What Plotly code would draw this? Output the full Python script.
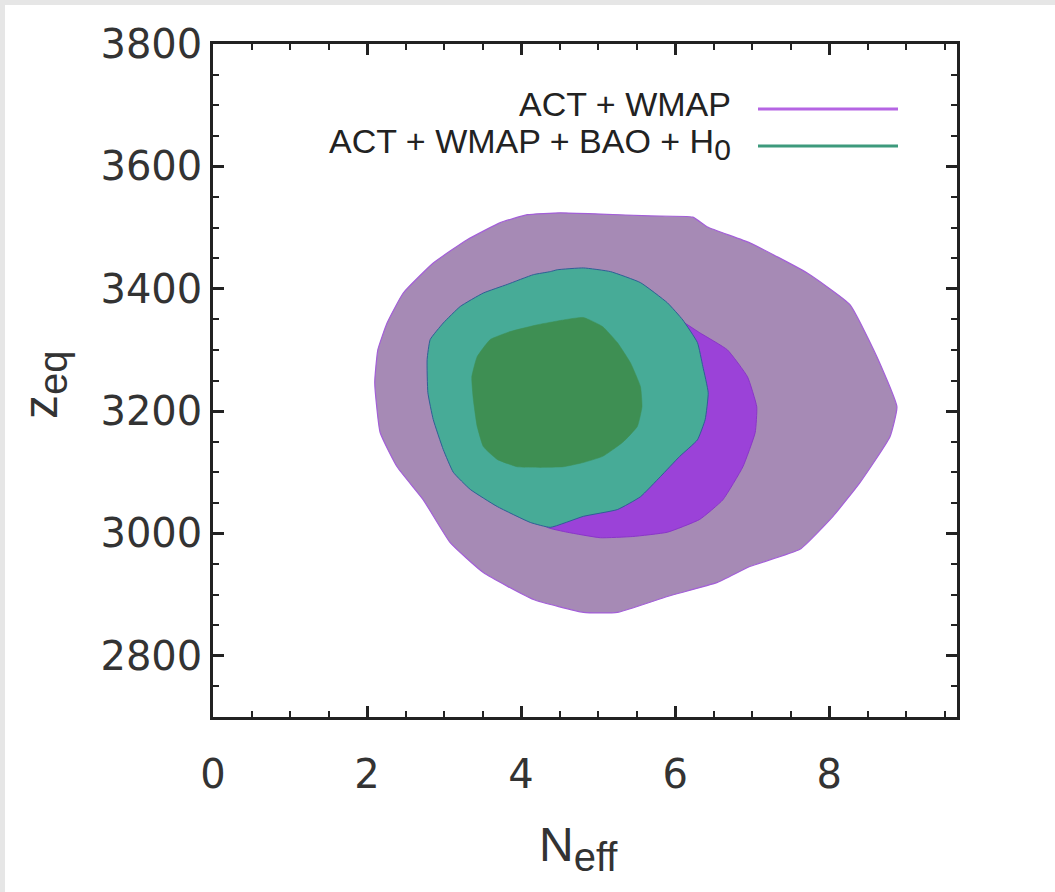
import plotly.graph_objects as go

# ---- contour outlines (N_eff, z_eq) ----
# ACT+WMAP, 95% region
act_wmap_95_neff = [4.08, 4.51, 5.03, 5.68, 6.23, 6.42, 6.97, 7.71, 8.27, 8.62, 8.88, 8.79, 8.40,
                    8.05, 7.62, 6.97, 6.55, 5.90, 5.25, 4.81, 4.16, 3.51, 3.08, 2.73, 2.39, 2.17,
                    2.10, 2.14, 2.26, 2.47, 2.86, 3.30, 3.73]
act_wmap_95_zeq = [3521, 3524, 3522, 3519, 3517, 3501, 3475, 3426, 3374, 3289, 3207, 3158, 3083,
                   3028, 2974, 2946, 2920, 2897, 2871, 2871, 2892, 2936, 2985, 3055, 3109, 3165,
                   3246, 3300, 3344, 3393, 3442, 3480, 3508]

# ACT+WMAP, 68% region
act_wmap_68_neff = [6.06, 6.32, 6.68, 6.94, 7.06, 7.04, 6.88, 6.62, 6.32, 5.90, 5.45, 5.03, 4.60,
                    4.34, 4.05, 3.66, 3.34, 3.31, 3.53, 3.99, 4.77, 5.55]
act_wmap_68_zeq = [3349, 3328, 3300, 3256, 3207, 3165, 3109, 3055, 3023, 3002, 2995, 2993, 3002,
                   3010, 3044, 3080, 3170, 3251, 3309, 3358, 3382, 3374]

# ACT+WMAP+BAO+H0, 95% region
act_bao_95_neff = [4.47, 4.81, 5.16, 5.55, 5.90, 6.10, 6.29, 6.36, 6.43, 6.39, 6.29, 6.06, 5.81,
                   5.55, 5.25, 4.81, 4.38, 4.12, 3.69, 3.34, 3.12, 2.99, 2.86, 2.79, 2.78, 2.82,
                   2.99, 3.21, 3.51, 3.82, 4.16, 4.38]
act_bao_95_zeq = [3431, 3434, 3428, 3410, 3377, 3349, 3312, 3273, 3230, 3186, 3153, 3126, 3093,
                  3060, 3039, 3028, 3010, 3018, 3044, 3072, 3100, 3137, 3186, 3230, 3284, 3317,
                  3344, 3371, 3393, 3407, 3423, 3428]

# ACT+WMAP+BAO+H0, 68% region
act_bao_68_neff = [3.43, 3.60, 3.86, 4.21, 4.55, 4.81, 5.06, 5.25, 5.42, 5.55, 5.57, 5.51, 5.32,
                   5.06, 4.81, 4.55, 4.25, 3.95, 3.69, 3.51, 3.43, 3.38, 3.36]
act_bao_68_zeq = [3289, 3317, 3330, 3341, 3349, 3353, 3338, 3312, 3279, 3240, 3207, 3175, 3149,
                  3126, 3116, 3109, 3108, 3109, 3121, 3142, 3175, 3219, 3256]

# ---- axes ----
x_ticks = [0, 2, 4, 6, 8]
y_ticks = [2800, 3000, 3200, 3400, 3600, 3800]
x_range = [0, 9.66]
y_range = [2700, 3800]

legend_labels = ["ACT + WMAP",
                 "ACT + WMAP + BAO + H<sub><span style='font-size:30px'>0</span></sub>"]
legend_colors = ["#b565e3", "#3d9a7c"]

fig = go.Figure()


def region(xs, ys, fill, edge, width):
    fig.add_trace(go.Scatter(
        x=xs + xs[:1], y=ys + ys[:1], mode="lines", fill="toself",
        fillcolor=fill, line=dict(color=edge, width=width, shape="spline", smoothing=0.4),
        hoverinfo="skip", showlegend=False,
    ))


region(act_wmap_95_neff, act_wmap_95_zeq, "#a68ab5", "#a35fd8", 1.2)
region(act_wmap_68_neff, act_wmap_68_zeq, "#9b42d8", "#8a36c8", 1)
region(act_bao_95_neff, act_bao_95_zeq, "#47ab97", "#2f5f96", 1)
region(act_bao_68_neff, act_bao_68_zeq, "#3e8f53", "#3e8f53", 0.5)

W, H = 1055, 892
L, R, T, B = 213, 98, 44, 175
pw, ph = W - L - R, H - T - B


def px_x(px):
    return (px - L) / pw


def px_y(py):
    return (H - B - py) / ph


shapes = [
    # white page over the grey frame on top/left
    dict(type="rect", xref="paper", yref="paper", x0=px_x(5), x1=px_x(W + 5),
         y0=px_y(H + 5), y1=px_y(5), fillcolor="white", line=dict(width=0), layer="below"),
]

# legend: labels to the left of a short line
legend_y = [104, 144]
line_y = [109, 146]
annotations = []
for lab, col, ty, ly in zip(legend_labels, legend_colors, legend_y, line_y):
    annotations.append(dict(xref="paper", yref="paper", x=px_x(733), y=px_y(ty),
                            xanchor="right", yanchor="middle", showarrow=False, text=lab,
                            font=dict(family="Liberation Sans", size=34, color="#222")))
    shapes.append(dict(type="line", xref="paper", yref="paper", x0=px_x(758), x1=px_x(898),
                       y0=px_y(ly), y1=px_y(ly), line=dict(color=col, width=3)))

# axis titles
annotations.append(dict(xref="paper", yref="paper", x=px_x(578), y=px_y(848),
                        xanchor="center", yanchor="middle", showarrow=False,
                        text="N<sub><span style='font-size:40px'>eff</span></sub>",
                        font=dict(family="Liberation Sans", size=48, color="#333")))
annotations.append(dict(xref="paper", yref="paper", x=px_x(44), y=px_y(385),
                        xanchor="center", yanchor="middle", showarrow=False, textangle=-90,
                        text="z<sub><span style='font-size:40px'>eq</span></sub>",
                        font=dict(family="Liberation Sans", size=48, color="#333")))

axis_common = dict(
    showgrid=False, zeroline=False, showline=True, linecolor="#222", linewidth=2.5,
    mirror="allticks", ticks="inside", ticklen=11, tickwidth=2.5, tickcolor="#222",
    tickfont=dict(family="DejaVu Sans", size=40, color="#333"),
)

fig.update_xaxes(range=x_range, tickvals=x_ticks, ticktext=[str(v) for v in x_ticks],
                 minor=dict(dtick=0.5, tick0=0, ticks="inside", ticklen=6, tickwidth=2, tickcolor="#222"),
                 ticklabelstandoff=20, **axis_common)
fig.update_yaxes(range=y_range, tickvals=y_ticks, ticktext=[str(v) for v in y_ticks],
                 minor=dict(dtick=50, tick0=2700, ticks="inside", ticklen=6, tickwidth=2, tickcolor="#222"),
                 ticklabelstandoff=0, **axis_common)

fig.update_layout(
    width=W, height=H, margin=dict(l=L, r=R, t=T, b=B),
    paper_bgcolor="#e6e6e6", plot_bgcolor="white",
    shapes=shapes, annotations=annotations, showlegend=False,
)

fig.write_html("out.html")
